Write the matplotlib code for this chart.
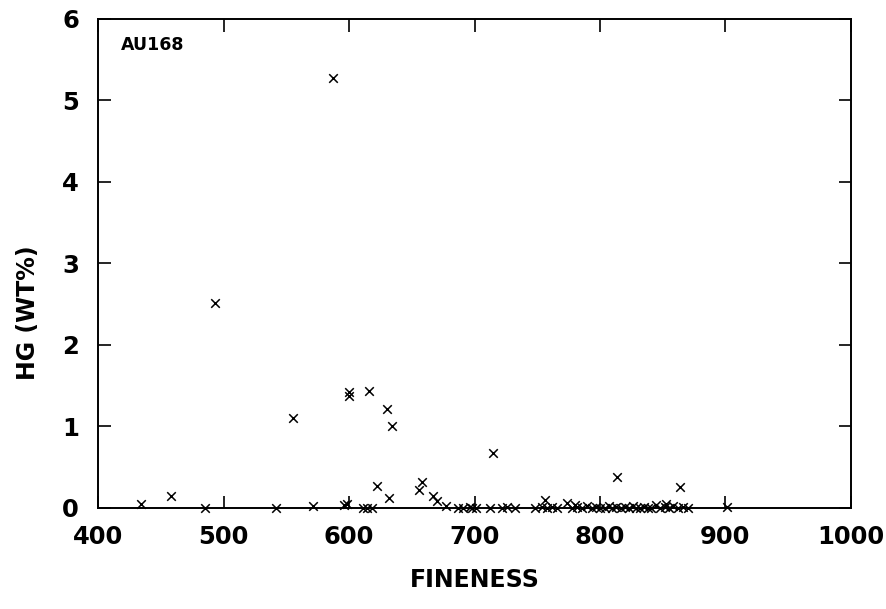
import matplotlib
matplotlib.use("Agg")
import matplotlib.pyplot as plt

# Au grains from sample AU168: fineness vs Hg content
fineness = [
    434, 458, 485, 493, 542, 555, 571, 587, 596, 598,
    600, 600, 611, 614, 616, 618, 622, 630, 632, 634,
    656, 658, 667, 670, 677, 687, 691, 696, 698, 701,
    712, 715, 722, 726, 732, 748, 754, 756, 758, 762,
    766, 774, 778, 780, 782, 786, 790, 794, 797, 800,
    804, 807, 810, 813, 814, 817, 820, 823, 826, 829,
    832, 835, 838, 841, 845, 848, 852, 853, 855, 858,
    862, 864, 866, 870, 901,
]
hg_wt = [
    0.05, 0.15, 0.00, 2.51, 0.00, 1.10, 0.02, 5.27, 0.04, 0.05,
    1.42, 1.37, 0.00, 0.00, 1.43, 0.00, 0.27, 1.21, 0.12, 1.00,
    0.22, 0.32, 0.14, 0.09, 0.02, 0.00, 0.00, 0.01, 0.00, 0.00,
    0.00, 0.67, 0.00, 0.01, 0.00, 0.00, 0.01, 0.10, 0.00, 0.01,
    0.00, 0.06, 0.00, 0.04, 0.01, 0.00, 0.02, 0.00, 0.01, 0.00,
    0.00, 0.02, 0.00, 0.01, 0.38, 0.00, 0.01, 0.00, 0.02, 0.00,
    0.00, 0.01, 0.00, 0.00, 0.04, 0.00, 0.01, 0.05, 0.00, 0.02,
    0.00, 0.26, 0.01, 0.00, 0.01,
]
sample = "AU168"

fig = plt.figure(figsize=(8.87, 6.09), dpi=100)
ax = fig.add_axes([0.111, 0.166, 0.848, 0.803])

ax.scatter(fineness, hg_wt, marker="x", s=38, color="black",
           linewidths=1.1, clip_on=False, zorder=3)

ax.set_xlim(400, 1000)
ax.set_ylim(0, 6)
ax.set_xticks([400, 500, 600, 700, 800, 900, 1000])
ax.set_yticks([0, 1, 2, 3, 4, 5, 6])

ax.tick_params(direction="in", length=9, width=1.2, top=True, right=True,
               labelsize=17.5)
ax.tick_params(axis="x", pad=12)
ax.tick_params(axis="y", pad=14)
for lab in ax.get_xticklabels() + ax.get_yticklabels():
    lab.set_fontweight("bold")
for sp in ax.spines.values():
    sp.set_linewidth(1.4)

ax.set_xlabel("FINENESS", fontsize=17, fontweight="bold", labelpad=14)
ax.set_ylabel("HG (WT%)", fontsize=17, fontweight="bold")
ax.yaxis.set_label_coords(-0.078, 0.40)

ax.text(0.03, 0.965, sample, transform=ax.transAxes, fontsize=12.5,
        fontweight="bold", va="top", ha="left")

fig.savefig("out.png", dpi=100)
